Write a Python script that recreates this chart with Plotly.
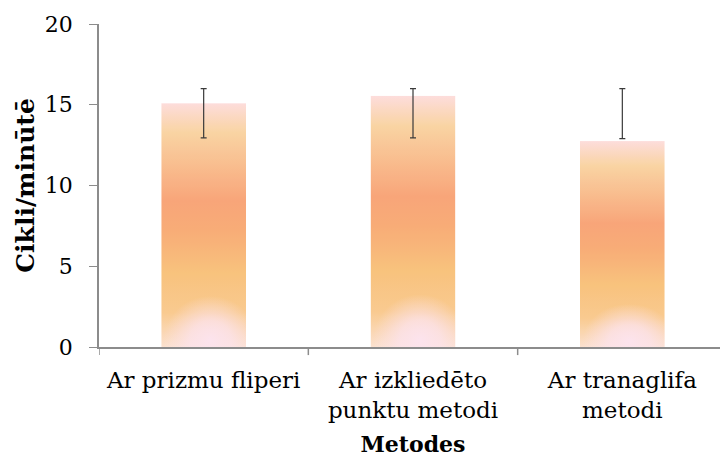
import plotly.graph_objects as go
import base64

categories = ["Ar prizmu fliperi", "Ar izkliedēto<br>punktu metodi", "Ar tranaglifa<br>metodi"]
values = [15.1, 15.55, 12.75]
err_low = [12.95, 12.95, 12.9]
err_high = [16.0, 16.0, 16.0]
y_ticks = [0, 5, 10, 15, 20]

FONT = "DejaVu Serif"

svg = """<svg xmlns='http://www.w3.org/2000/svg' width='100' height='300' preserveAspectRatio='none' viewBox='0 0 100 300'>
<defs>
<linearGradient id='g' x1='0' y1='0' x2='0' y2='1'>
<stop offset='0' stop-color='#FDE0E2'/>
<stop offset='0.12' stop-color='#F9D6A6'/>
<stop offset='0.40' stop-color='#F8A57A'/>
<stop offset='0.52' stop-color='#F8AC78'/>
<stop offset='0.70' stop-color='#F8C47E'/>
<stop offset='0.86' stop-color='#F9CC92'/>
<stop offset='1' stop-color='#FBE4D4'/>
</linearGradient>
<radialGradient id='r' gradientUnits='userSpaceOnUse' cx='58' cy='292' r='55'>
<stop offset='0' stop-color='#FCE6F4' stop-opacity='1'/>
<stop offset='0.45' stop-color='#FCE6F4' stop-opacity='0.75'/>
<stop offset='1' stop-color='#FCE6F4' stop-opacity='0'/>
</radialGradient>
</defs>
<rect width='100' height='300' fill='url(#g)'/>
<rect width='100' height='300' fill='url(#r)'/>
</svg>"""
img_src = "data:image/svg+xml;base64," + base64.b64encode(svg.encode()).decode()

bar_width = 0.405

fig = go.Figure()
fig.add_trace(go.Bar(
    x=list(range(len(categories))), y=values, width=bar_width,
    marker=dict(color="rgba(248,170,120,0.05)", line=dict(width=0)),
    showlegend=False, hoverinfo="y",
))
fig.add_trace(go.Scatter(
    x=list(range(len(categories))), y=err_high, mode="markers",
    marker=dict(size=1, color="rgba(0,0,0,0)"),
    error_y=dict(type="data", symmetric=False,
                 array=[0] * len(err_high),
                 arrayminus=[h - l for h, l in zip(err_high, err_low)],
                 color="#3a3a3a", thickness=1.2, width=3),
    showlegend=False, hoverinfo="skip",
))

images = []
for i, v in enumerate(values):
    images.append(dict(source=img_src, xref="x", yref="y",
                       x=i - bar_width / 2, y=v, sizex=bar_width, sizey=v,
                       xanchor="left", yanchor="top", sizing="stretch",
                       layer="below"))

fig.update_layout(
    width=720, height=451,
    margin=dict(l=91, r=1, t=16, b=112),
    paper_bgcolor="white", plot_bgcolor="white",
    font=dict(family=FONT, color="black"),
    images=images,
    xaxis=dict(
        tickmode="array", tickvals=list(range(len(categories))), ticktext=categories,
        range=[-0.5, len(categories) - 0.5], automargin=False,
        showline=True, linecolor="#8c8c8c", linewidth=1.5,
        ticks="", showgrid=False, zeroline=False, ticklabelstandoff=12,
        tickfont=dict(size=23, family=FONT),
        title=dict(text="<b>Metodes</b>", font=dict(size=22, family=FONT), standoff=14),
    ),
    yaxis=dict(
        range=[0, 20], tickvals=y_ticks, automargin=False,
        showline=True, linecolor="#8c8c8c", linewidth=1.5,
        ticks="outside", ticklen=8, tickcolor="#8c8c8c", ticklabelstandoff=12,
        showgrid=False, zeroline=False,
        tickfont=dict(size=22, family=FONT),
        title=dict(text="<b>Cikli/minūtē</b>", font=dict(size=25, family=FONT), standoff=3),
    ),
)

for b in [x - 0.5 for x in range(len(categories) + 1)]:
    fig.add_shape(type="line", xref="x", yref="paper", x0=b, x1=b, y0=0, y1=-0.025,
                  line=dict(color="#8c8c8c", width=1.5))

fig.write_html("out.html")
